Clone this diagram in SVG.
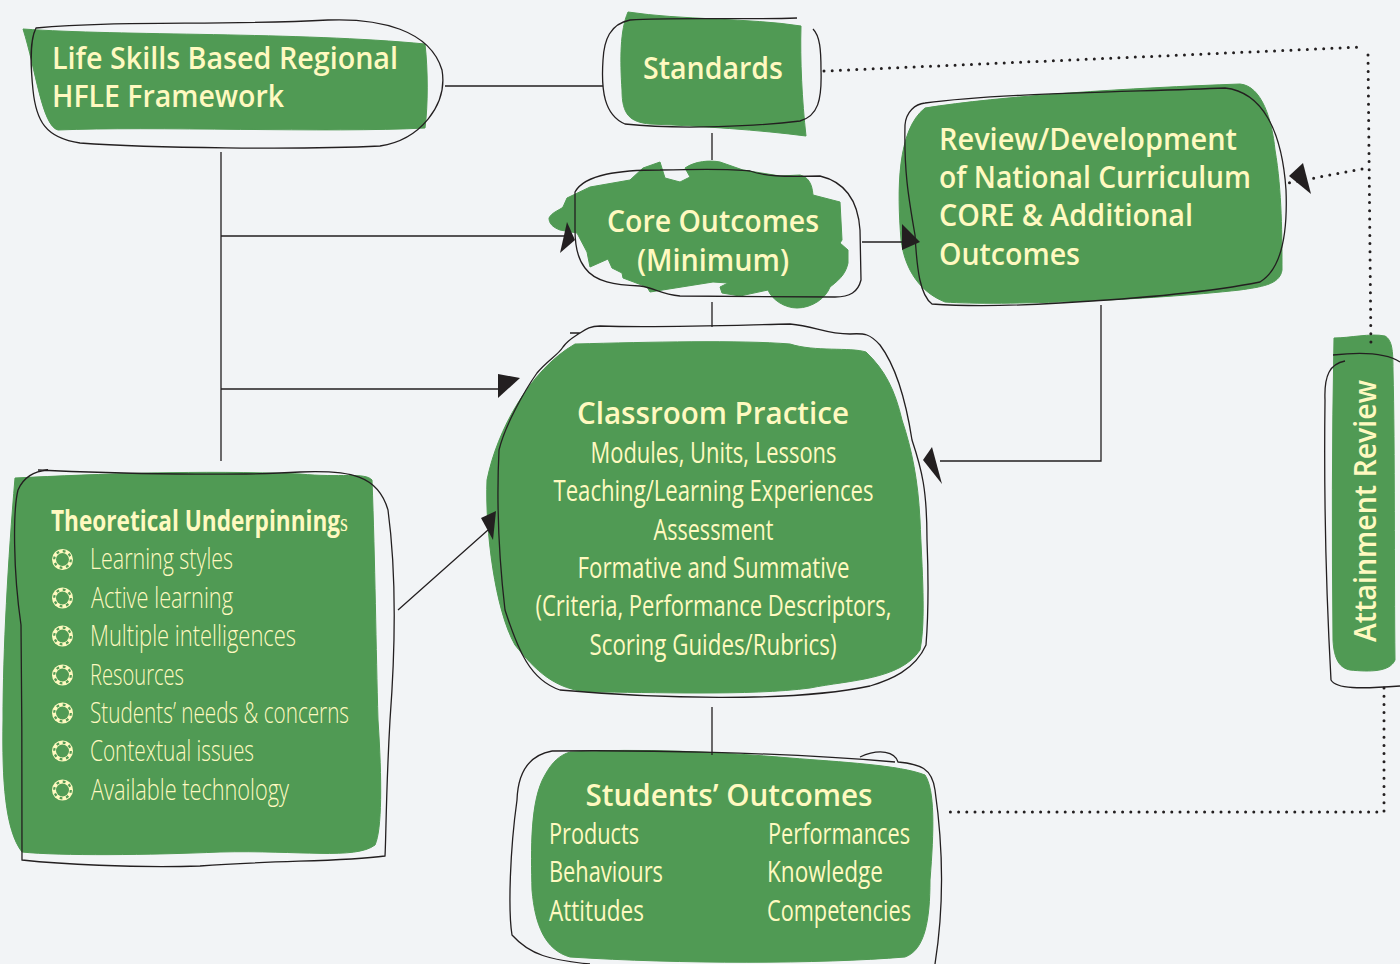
<svg xmlns="http://www.w3.org/2000/svg" width="1400" height="964" viewBox="0 0 1400 964">
<style>
.blob{fill:#509a54;stroke:#509a54;stroke-width:1;stroke-linejoin:round}
.out{fill:none;stroke:#231f20;stroke-width:1.3}
.ln{fill:none;stroke:#231f20;stroke-width:1.3}
.dot{fill:none;stroke:#231f20;stroke-width:3;stroke-linecap:round;stroke-dasharray:0 8.2}
.ah{fill:#231f20;stroke:none}
text{font-family:"Open Sans","Noto Sans","Liberation Sans",sans-serif;fill:#fff9c0}
.h{font-size:30px;font-weight:600}
.c{font-size:29px;font-weight:400}
.l{font-size:29px;font-weight:300}
.m{text-anchor:middle}
</style>
<defs>
<g id="bullet">
<circle r="10.500" fill="#fff9c0"/>
<circle r="6.500" fill="#509a54"/>
<circle r="8.300" fill="none" stroke="#509a54" stroke-width="2.200" stroke-dasharray="2.800 3.720"/>
</g>
</defs>
<rect width="1400" height="964" fill="#f2f4f6"/>

<g id="framework">
<path class="blob" d="M23 29C120 36 300 32 425 44C428 70 428 105 425 128C330 133 150 126 58 130C42 126 36 70 23 29Z"/>
<path class="out" d="M36 28C120 20 220 26 328 20C380 18 430 30 442 70C448 105 420 140 380 146C300 150 150 148 80 143C45 138 36 120 33 90C30 60 30 40 36 28Z"/>
<text class="h" x="52" y="69" textLength="346" lengthAdjust="spacingAndGlyphs">Life Skills Based Regional</text>
<text class="h" x="52" y="107" textLength="232" lengthAdjust="spacingAndGlyphs">HFLE Framework</text>
</g>

<g id="standards">
<path class="blob" d="M628 12C680 20 750 18 801 26C800 60 802 100 806 136C760 130 700 126 650 124C630 122 622 115 622 90C620 60 620 30 628 12Z"/>
<path class="out" d="M797 18C740 20 680 17 630 20C610 24 604 40 603 60C601 90 604 115 625 124C680 130 760 126 800 121C818 116 822 100 821 70C821 50 820 36 813 29"/>
<text class="h m" x="713" y="79" textLength="140" lengthAdjust="spacingAndGlyphs">Standards</text>
</g>

<g id="core">
<path class="blob" d="M549 218C552 212 560 210 563 207L567 198L590 187L630 180L643 168L660 162L665 178L680 182L690 177L685 168C695 161 710 160 720 162L743 170L780 176L800 175C808 177 812 183 813 195L840 202L842 240L840 243L848 250L848 263C846 272 842 278 830 287C826 298 812 308 797 308C785 308 772 300 768 290L740 296L722 293L720 287L728 283L713 282L650 292L647 287L623 278L622 273L612 268L608 259L590 267L587 252L577 233L560 230C552 227 549 223 549 218Z"/>
<path class="out" d="M575 192C585 174 620 170 660 170C700 169 735 169 750 171C765 176 780 177 820 176C845 182 858 200 860 230L861 280C858 292 850 297 835 297L680 296C660 294 655 288 640 286C615 285 595 282 585 268C577 258 575 245 575 230Z"/>
<text class="h m" x="713" y="232" textLength="212" lengthAdjust="spacingAndGlyphs">Core Outcomes</text>
<text class="h m" x="713" y="271" textLength="152" lengthAdjust="spacingAndGlyphs">(Minimum)</text>
</g>

<g id="review">
<path class="blob" d="M925 108C1000 96 1130 88 1240 84C1262 86 1272 120 1275 150C1282 190 1282 240 1282 270C1280 285 1260 287 1240 290C1150 300 1000 306 945 302C920 292 905 270 901 240C897 190 897 130 925 108Z"/>
<path class="out" d="M925 103C1000 93 1130 92 1225 88C1262 92 1282 130 1286 190C1288 240 1280 270 1260 282C1220 290 1150 298 1060 303C1010 306 960 306 932 304C920 295 917 270 915 235C908 195 904 170 905 125C906 112 915 104 925 103Z"/>
<text class="h" x="939" y="150" textLength="298" lengthAdjust="spacingAndGlyphs">Review/Development</text>
<text class="h" x="939" y="188" textLength="312" lengthAdjust="spacingAndGlyphs">of National Curriculum</text>
<text class="h" x="939" y="226" textLength="254" lengthAdjust="spacingAndGlyphs">CORE &amp; Additional</text>
<text class="h" x="939" y="265" textLength="141" lengthAdjust="spacingAndGlyphs">Outcomes</text>
</g>

<g id="classroom">
<path class="blob" d="M575 344C650 342 740 340 790 344C815 352 850 347 866 352C885 370 895 390 902 420C912 450 918 480 920 520C922 570 926 620 920 650C900 680 850 680 810 688C750 696 650 692 590 692C555 690 535 670 515 645C495 610 485 530 487 480C497 430 530 370 575 344Z"/>
<path class="out" d="M570 333L580 333C586 329 590 326 600 326C660 328 740 325 790 324C815 326 825 334 850 334C865 333 870 334 880 345C895 365 905 395 912 440C922 470 927 490 927 540C929 590 928 620 926 645C915 670 890 680 870 686C790 703 650 698 560 690C530 680 518 650 505 610C498 550 497 490 499 450C505 425 525 390 537 373C548 360 558 355 563 347C568 340 574 337 580 333"/>
<text class="h m" x="713" y="424" textLength="272" lengthAdjust="spacingAndGlyphs">Classroom Practice</text>
<text class="c m" x="713.500" y="463" textLength="246" lengthAdjust="spacingAndGlyphs">Modules, Units, Lessons</text>
<text class="c m" x="713.500" y="501" textLength="320" lengthAdjust="spacingAndGlyphs">Teaching/Learning Experiences</text>
<text class="c m" x="713.500" y="540" textLength="120" lengthAdjust="spacingAndGlyphs">Assessment</text>
<text class="c m" x="713.500" y="578" textLength="272" lengthAdjust="spacingAndGlyphs">Formative and Summative</text>
<text class="c m" x="713.500" y="616" textLength="356" lengthAdjust="spacingAndGlyphs">(Criteria, Performance Descriptors,</text>
<text class="c m" x="713" y="655" textLength="247" lengthAdjust="spacingAndGlyphs">Scoring Guides/Rubrics)</text>
</g>

<g id="underpinnings">
<path class="blob" d="M15 478C100 474 200 470 300 474C340 478 365 472 372 480C375 560 376 650 378 720C382 780 382 830 375 845C355 860 300 850 220 852C150 855 60 856 22 852C5 830 2 780 3 720C3 650 8 560 15 478Z"/>
<path class="out" d="M38 470C120 474 240 476 300 472C350 470 378 475 388 510C396 570 396 640 390 720C386 790 386 840 385 856C340 862 280 860 200 866C130 868 60 864 22 860C22 790 22 700 21 625C13 570 13 510 18 490C24 476 35 471 48 470"/>
<text x="51" y="531" font-size="29" font-weight="700" textLength="297" lengthAdjust="spacingAndGlyphs">Theoretical Underpinning<tspan font-size="26" font-weight="400" style="font-family:'Liberation Serif',serif">s</tspan></text>
<use href="#bullet" x="62.500" y="559.500"/>
<use href="#bullet" x="62.500" y="598"/>
<use href="#bullet" x="62.500" y="636"/>
<use href="#bullet" x="62.500" y="675"/>
<use href="#bullet" x="62.500" y="713"/>
<use href="#bullet" x="62.500" y="751"/>
<use href="#bullet" x="62.500" y="790"/>
<text class="l" x="90" y="569" textLength="143" lengthAdjust="spacingAndGlyphs">Learning styles</text>
<text class="l" x="91" y="608" textLength="142" lengthAdjust="spacingAndGlyphs">Active learning</text>
<text class="l" x="90" y="646" textLength="206" lengthAdjust="spacingAndGlyphs">Multiple intelligences</text>
<text class="l" x="90" y="685" textLength="94" lengthAdjust="spacingAndGlyphs">Resources</text>
<text class="l" x="90" y="723" textLength="259" lengthAdjust="spacingAndGlyphs">Students’ needs &amp; concerns</text>
<text class="l" x="90" y="761" textLength="164" lengthAdjust="spacingAndGlyphs">Contextual issues</text>
<text class="l" x="91" y="800" textLength="198" lengthAdjust="spacingAndGlyphs">Available technology</text>
</g>

<g id="students">
<path class="blob" d="M570 752C640 748 720 752 790 758C840 762 900 765 925 775C935 790 934 830 930 880C930 920 925 950 905 957C820 964 680 964 570 957C545 950 535 925 532 890C531 850 530 800 545 775C552 762 560 755 570 752Z"/>
<path class="out" d="M860 757C880 748 895 752 898 762C920 764 932 768 935 790C945 860 942 920 935 964M552 751C530 755 518 770 517 800C510 850 508 910 512 935C530 955 550 960 590 964M552 751C640 750 780 752 895 762"/>
<text class="h m" x="729" y="806" textLength="287" lengthAdjust="spacingAndGlyphs">Students’ Outcomes</text>
<text class="c" x="549" y="844" textLength="90" lengthAdjust="spacingAndGlyphs">Products</text>
<text class="c" x="768" y="844" textLength="142" lengthAdjust="spacingAndGlyphs">Performances</text>
<text class="c" x="549" y="882" textLength="114" lengthAdjust="spacingAndGlyphs">Behaviours</text>
<text class="c" x="767" y="882" textLength="116" lengthAdjust="spacingAndGlyphs">Knowledge</text>
<text class="c" x="549" y="921" textLength="95" lengthAdjust="spacingAndGlyphs">Attitudes</text>
<text class="c" x="767" y="921" textLength="144" lengthAdjust="spacingAndGlyphs">Competencies</text>
</g>

<g id="attainment">
<path class="blob" d="M1334 338C1350 338 1370 333 1385 336C1392 340 1393 350 1393 370C1395 450 1394 570 1395 660C1390 672 1370 672 1350 670C1340 668 1334 660 1333 640C1332 540 1332 440 1334 338Z"/>
<path class="out" d="M1333 355C1360 352 1385 352 1400 362M1345 361C1330 364 1324 375 1325 400C1324 480 1326 590 1331 680C1336 689 1360 689 1400 686"/>
<text class="h" transform="translate(1376 642) rotate(-90)" textLength="262" lengthAdjust="spacingAndGlyphs">Attainment Review</text>
</g>

<g id="connectors">
<path class="ln" d="M445 86H603M712 133V160M221 152V461M221 236H566M221 389H500M862 242H905M712 302V327M1101 305V461H940M398 610L488 530M712 707V755"/>
<path class="dot" d="M824 71L1362 47M1368 55L1371 350M1362 169L1288 183M1384 688V812H946"/>
<path class="ah" d="M567 222L575 240L560 253Z"/>
<path class="ah" d="M498 374L520 378L498 398Z"/>
<path class="ah" d="M902 224L920 242L902 250Z"/>
<path class="ah" d="M1303 163L1289 176L1311 194Z"/>
<path class="ah" d="M932 447L923 460L942 484Z"/>
<path class="ah" d="M481 518L496 511L493 540Z"/>
</g>
</svg>
